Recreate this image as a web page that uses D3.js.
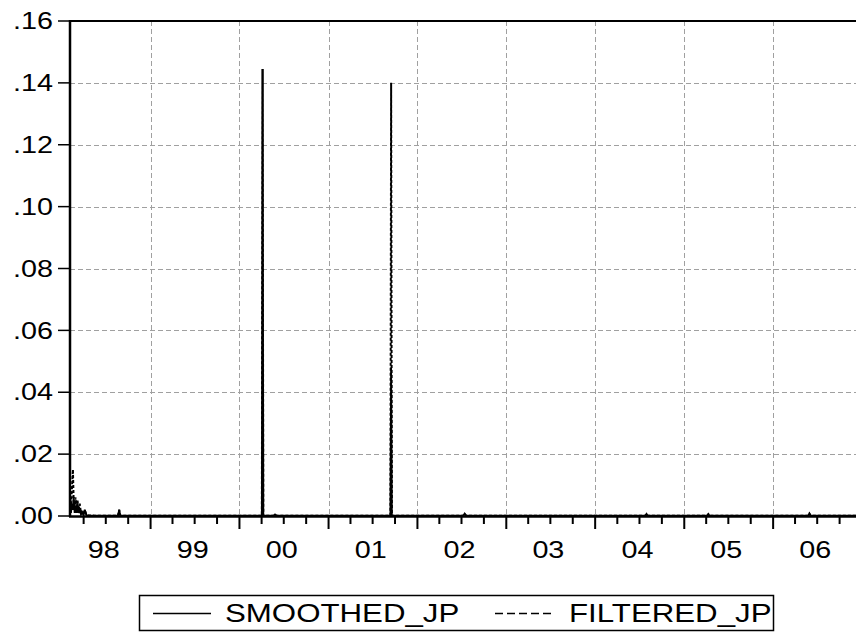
<!DOCTYPE html>
<html>
<head>
<meta charset="utf-8">
<script src="https://d3js.org/d3.v7.min.js"></script>
<style>
  body { margin: 0; background: #fff; }
  text { font-family: "Liberation Sans", Arial, sans-serif; fill: #000; }
</style>
</head>
<body>
<svg id="chart" width="856" height="632"></svg>
<script>
var dates = [
  "1998-02-04", "1998-02-08", "1998-02-12", "1998-02-16", "1998-02-19", "1998-02-23",
  "1998-02-27", "1998-03-03", "1998-03-07", "1998-03-11", "1998-03-16", "1998-03-21",
  "1998-03-26", "1998-04-01", "1998-04-06", "1998-04-12", "1998-04-20", "1998-05-15",
  "1998-07-01", "1998-08-20", "1998-08-25", "1998-08-30", "1998-10-15", "1999-01-10",
  "1999-04-15", "1999-07-20", "1999-10-20", "2000-01-15", "2000-04-02", "2000-04-05",
  "2000-04-08", "2000-05-20", "2000-05-26", "2000-06-01", "2000-09-01", "2000-12-01",
  "2001-03-01", "2001-06-01", "2001-09-12", "2001-09-15", "2001-09-18", "2001-12-01",
  "2002-03-15", "2002-07-08", "2002-07-14", "2002-07-20", "2002-11-01", "2003-03-01",
  "2003-07-01", "2003-11-01", "2004-03-01", "2004-07-25", "2004-07-30", "2004-08-04",
  "2004-12-01", "2005-04-05", "2005-04-10", "2005-04-15", "2005-09-01", "2006-01-15",
  "2006-05-25", "2006-05-30", "2006-06-04", "2006-09-01", "2006-12-29"
];
var smoothed = [
  .005, .001, .004, .002, .006, .001,
  .003, .001, .004, .001, .002, .0005,
  .001, .0003, .002, .0003, .0002, .0001,
  .0001, .0001, .002, .0001, .0001, .0001,
  .0001, .0001, .0001, .0001, .0001, .1445,
  .0001, .0001, .0005, .0001, .0001, .0001,
  .0001, .0001, .0001, .048, .0001, .0001,
  .0001, .0001, .0008, .0001, .0001, .0001,
  .0001, .0001, .0001, .0001, .0007, .0001,
  .0001, .0001, .0006, .0001, .0001, .0001,
  .0001, .0008, .0001, .0001, .0001
];
var filtered = [
  .007, .003, .009, .015, .005, .002,
  .006, .001, .005, .002, .004, .001,
  .002, .0005, .002, .0004, .0002, .0001,
  .0001, .0001, .002, .0001, .0001, .0001,
  .0001, .0001, .0001, .0001, .0001, .1445,
  .0001, .0001, .0005, .0001, .0001, .0001,
  .0001, .0001, .0001, .140, .0001, .0001,
  .0001, .0001, .0008, .0001, .0001, .0001,
  .0001, .0001, .0001, .0001, .0007, .0001,
  .0001, .0001, .0006, .0001, .0001, .0001,
  .0001, .0008, .0001, .0001, .0001
];
var yTicks = [0, .02, .04, .06, .08, .10, .12, .14, .16];
var seriesNames = ["SMOOTHED_JP", "FILTERED_JP"];

var parse = d3.timeParse("%Y-%m-%d");
var stretch = 1.25;   // the picture's text is a bit wide

var svg = d3.select("#chart");
svg.append("rect").attr("width", 856).attr("height", 632).attr("fill", "#fff");

var x = d3.scaleTime()
  .domain([parse("1998-02-04"), parse("2007-01-01")])
  .range([70, 862]);
var y = d3.scaleLinear()
  .domain([0, .16])
  .range([516, 21]);

// grid
var grid = svg.append("g")
  .attr("stroke", "#a0a0a0")
  .attr("stroke-width", 1)
  .attr("stroke-dasharray", "5,3");
grid.selectAll("line.h")
  .data(yTicks.filter(d => d > 0 && d < .16))
  .enter().append("line")
    .attr("x1", 70).attr("x2", 856)
    .attr("y1", d => Math.round(y(d)) + .5).attr("y2", d => Math.round(y(d)) + .5);
var years = d3.timeYear.range(parse("1999-01-01"), parse("2007-01-01"));
grid.selectAll("line.v")
  .data(years)
  .enter().append("line")
    .attr("x1", d => Math.round(x(d)) + .5).attr("x2", d => Math.round(x(d)) + .5)
    .attr("y1", 21).attr("y2", 516);

// series
var pts = dates.map((d, i) => ({date: parse(d), s: smoothed[i], f: filtered[i]}));
var lineS = d3.line().x(d => x(d.date)).y(d => y(d.s));
var lineF = d3.line().x(d => x(d.date)).y(d => y(d.f));

svg.append("path")
  .datum(pts)
  .attr("d", lineF)
  .attr("fill", "none")
  .attr("stroke", "#000")
  .attr("stroke-width", 2)
  .attr("stroke-dasharray", "3,2");
svg.append("path")
  .datum(pts)
  .attr("d", lineS)
  .attr("fill", "none")
  .attr("stroke", "#000")
  .attr("stroke-width", 1.8);

// frame
svg.append("line").attr("x1", 70).attr("x2", 856).attr("y1", 21).attr("y2", 21)
  .attr("stroke", "#000").attr("stroke-width", 2);
svg.append("line").attr("x1", 70).attr("x2", 70).attr("y1", 20).attr("y2", 517)
  .attr("stroke", "#000").attr("stroke-width", 2.5);

// y axis
var yAxis = svg.append("g");
yAxis.selectAll("line")
  .data(yTicks)
  .enter().append("line")
    .attr("x1", 58).attr("x2", 70)
    .attr("y1", d => y(d)).attr("y2", d => y(d))
    .attr("stroke", "#000").attr("stroke-width", 1.5);
yAxis.selectAll("text")
  .data(yTicks)
  .enter().append("text")
    .attr("transform", d => `translate(53,${y(d) + 8.2}) scale(${stretch},1)`)
    .attr("text-anchor", "end")
    .style("font-size", "23px")
    .text(d => d3.format(".2f")(d).replace(/^0/, ""));

// x axis
var xAxis = svg.append("g");
xAxis.append("line").attr("x1", 69).attr("x2", 856).attr("y1", 516.5).attr("y2", 516.5)
  .attr("stroke", "#000").attr("stroke-width", 2.5);
var quarters = d3.timeMonth.every(3).range(parse("1998-04-01"), parse("2007-01-01"));
xAxis.selectAll("line.t")
  .data(quarters)
  .enter().append("line")
    .attr("x1", d => x(d)).attr("x2", d => x(d))
    .attr("y1", 517)
    .attr("y2", d => d.getMonth() === 0 ? 529 : 524)
    .attr("stroke", "#000").attr("stroke-width", 2);
var mids = d3.timeYear.range(parse("1998-01-01"), parse("2007-01-01"))
  .map(d => d3.timeMonth.offset(d, 6));
xAxis.selectAll("text")
  .data(mids)
  .enter().append("text")
    .attr("transform", d => `translate(${x(d) - 2},558) scale(${stretch},1)`)
    .attr("text-anchor", "middle")
    .style("font-size", "23px")
    .text(d => d3.timeFormat("%y")(d));

// legend
var leg = svg.append("g");
leg.append("rect")
  .attr("x", 139.5).attr("y", 595.5).attr("width", 634).attr("height", 35)
  .attr("fill", "none").attr("stroke", "#000").attr("stroke-width", 1.5);
var legX = [153, 495];
var legTextX = [225, 569];
seriesNames.forEach(function(name, i) {
  leg.append("line")
    .attr("x1", legX[i]).attr("x2", legX[i] + (i === 1 ? 60 : 58))
    .attr("y1", 613.5).attr("y2", 613.5)
    .attr("stroke", "#000").attr("stroke-width", 1.5)
    .attr("stroke-dasharray", i === 1 ? "8,4" : null);
  leg.append("text")
    .attr("transform", `translate(${legTextX[i]},622) scale(${stretch},1)`)
    .style("font-size", "25px")
    .text(name);
});
</script>
</body>
</html>
